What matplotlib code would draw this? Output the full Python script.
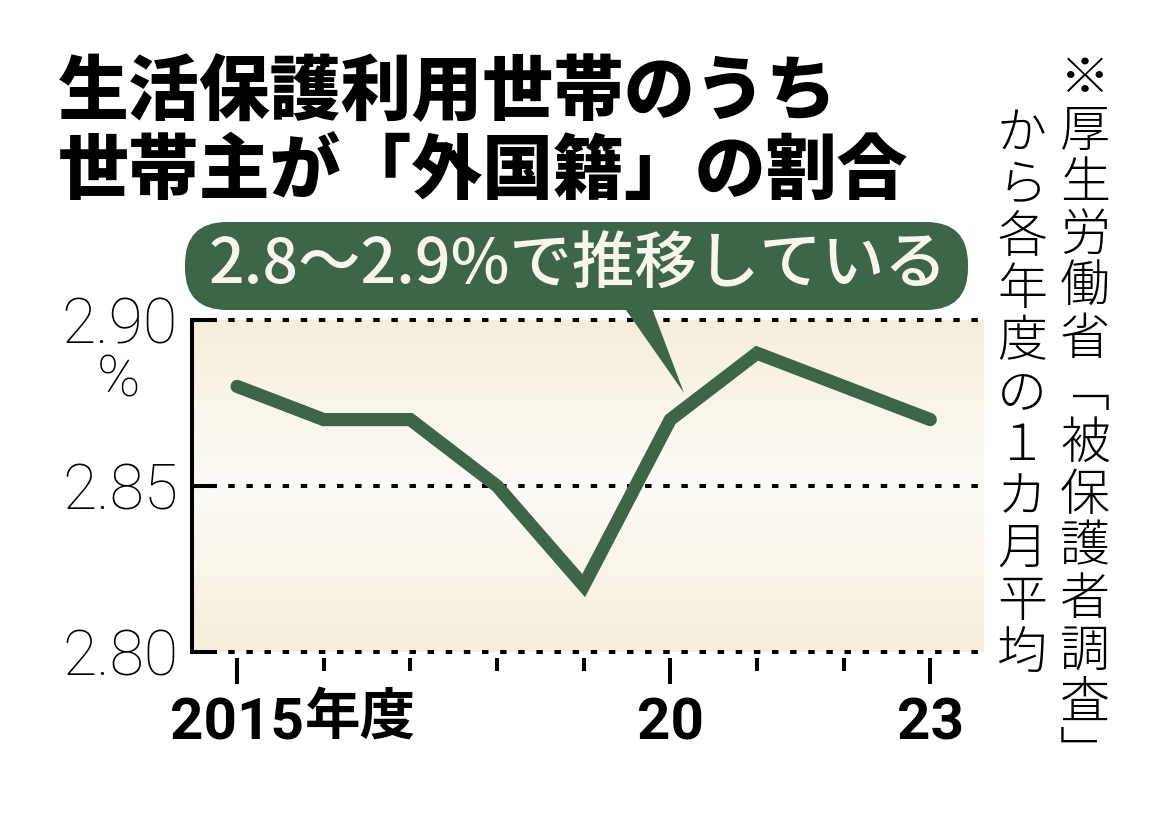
import numpy as np
import matplotlib
matplotlib.use('Agg')
import matplotlib.pyplot as plt
from matplotlib.patches import FancyBboxPatch, Polygon
from matplotlib.colors import LinearSegmentedColormap

# data
years = [2015, 2016, 2017, 2018, 2019, 2020, 2021, 2022, 2023]
share = [2.88, 2.87, 2.87, 2.85, 2.82, 2.87, 2.89, 2.88, 2.87]
yticks = [2.80, 2.85, 2.90]
ytick_labels = ['2.80', '2.85', '2.90']
major_years = [2015, 2020, 2023]
xtick_labels = ['2015', '20', '23']
title_lines = ['生活保護利用世帯のうち', '世帯主が「外国籍」の割合']
callout = '2.8～2.9%で推移している'
source_cols = ['※厚生労働省﹁被保護者調査﹂', 'から各年度の１カ月平均']

GREEN = '#3d6547'
JP = ['Noto Sans CJK JP', 'DejaVu Sans']
W, H = 1169, 813

fig = plt.figure(figsize=(W / 100, H / 100), dpi=100)
ax = fig.add_axes([192 / W, 1 - 652 / H, (984 - 192) / W, (652 - 320) / H])

# cream background, darker at top and bottom
cmap = LinearSegmentedColormap.from_list(
    'cream', [(0, '#f5eedb'), (0.5, '#fdfbf6'), (1, '#f5eedb')])
grad = np.linspace(0, 1, 256).reshape(-1, 1)
ax.imshow(grad, cmap=cmap, extent=[0, 1, 0, 1], transform=ax.transAxes,
          aspect='auto', origin='lower', zorder=0)

for y in yticks:
    ax.axhline(y, color='k', lw=2.9, ls=(0, (1.6, 2.9)), zorder=1, clip_on=False)

ax.plot(years, share, color=GREEN, lw=9.5, solid_capstyle='round',
        solid_joinstyle='miter', zorder=3, clip_on=False)

ax.set_xlim(2014.48, 2023.62)
ax.set_ylim(2.80, 2.90)

for s in ['top', 'right']:
    ax.spines[s].set_visible(False)
ax.spines['left'].set_linewidth(2.9)
ax.spines['bottom'].set_position(('outward', 4))
ax.spines['bottom'].set_color('none')

ax.set_yticks(yticks, ytick_labels)
ax.set_xticks(major_years, xtick_labels)
ax.set_xticks([y for y in years if y not in major_years], minor=True)
ax.tick_params(axis='y', direction='in', length=18, width=2.9, pad=10, labelsize=45)
ax.tick_params(axis='x', which='major', direction='out', length=19, width=2.9,
               pad=9, labelsize=42)
ax.tick_params(axis='x', which='minor', direction='out', length=9.5, width=2.9)
for lab in ax.get_yticklabels():
    lab.set_family('Roboto')
    lab.set_weight('light')
for lab in ax.get_xticklabels():
    lab.set_family('Roboto')
    lab.set_weight('bold')

# overlay in pixel coordinates for titles, callout and note
ov = fig.add_axes([0, 0, 1, 1])
ov.set_xlim(0, W)
ov.set_ylim(H, 0)
ov.axis('off')

ov.text(305, 718, '年度', ha='left', va='center', fontsize=40, weight='bold', family=JP)
ov.text(118, 381, '%', ha='center', va='center', fontsize=42, family='Roboto', weight='light')

for i, line in enumerate(title_lines):
    ov.text(58, 94 + 78 * i, line, ha='left', va='center', fontsize=51,
            weight='heavy', family=JP)

ov.add_patch(FancyBboxPatch((185, 222), 783, 88, boxstyle='round,pad=0,rounding_size=42',
                            fc=GREEN, ec='none'))
ov.add_patch(Polygon([(619, 300), (649, 300), (684, 393)], closed=True, fc=GREEN, ec='none'))
ov.text(578, 266, callout, ha='center', va='center', fontsize=45, color='#f7f5ec',
        weight='medium', family=JP)

# vertical source note
for col, (x, y0) in enumerate([(1085, 80), (1022, 134)]):
    for k, ch in enumerate(source_cols[col]):
        ov.text(x, y0 + 52 * k, ch, ha='center', va='center', fontsize=36,
                weight='light', family=JP)

fig.savefig('out.png', dpi=100)
